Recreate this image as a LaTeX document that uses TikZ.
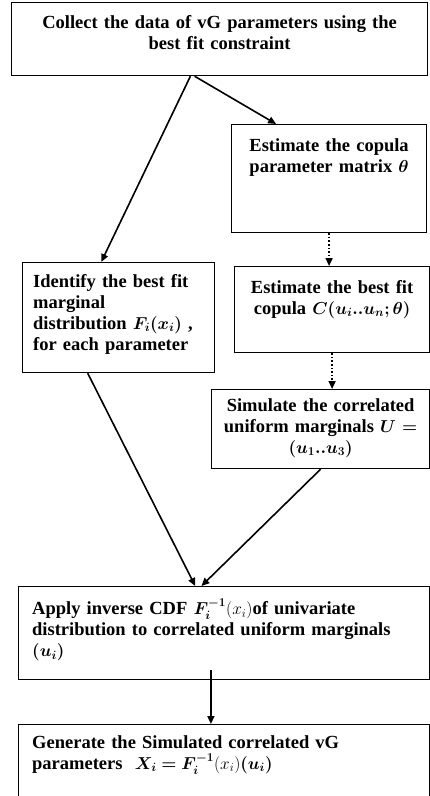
\documentclass[tikz,border=0pt]{standalone}
\usepackage{fontspec}
\setmainfont{Liberation Serif}
\usepackage{amsmath}
\usepackage{bm}
\usetikzlibrary{arrows.meta,calc}

\tikzset{
  frame/.style={draw, line width=1.2pt, inner sep=0pt, anchor=north west},
  boxtext/.style={inner sep=0pt, font=\fontsize{18.5}{21}\selectfont\bfseries},
  flow/.style={->, line width=1.6pt},
}

\begin{document}
\begin{tikzpicture}[x=1pt,y=-1pt,>={Triangle[length=8pt,width=7pt]}]
  \useasboundingbox (0,0) rectangle (430,796);

  % frames of the steps
  \node[frame, minimum width=416pt, minimum height=73pt] (collect) at (11,2) {};
  \node[frame, minimum width=195pt, minimum height=108pt] (copula) at (231,124) {};
  \node[frame, minimum width=192pt, minimum height=110pt] (identify) at (22,262) {};
  \node[frame, minimum width=195pt, minimum height=86pt] (bestfit) at (234,266) {};
  \node[frame, minimum width=218pt, minimum height=79pt] (simulate) at (211,389) {};
  \node[frame, minimum width=411pt, minimum height=93pt] (apply) at (18,586) {};
  \node[frame, minimum width=411pt, minimum height=74pt] (generate) at (18,724) {};

  % texts
  \node[boxtext, anchor=north, text width=405pt, align=center] (collecttext)
    at ($(collect.north)+(0,13)$)
    {Collect the data of vG parameters using the\\ best fit constraint};
  \node[boxtext, anchor=north, text width=190pt, align=center] (copulatext)
    at ($(copula.north)+(0,14)$)
    {Estimate the copula\\ parameter matrix $\bm{\theta}$};
  \node[boxtext, anchor=north west, text width=178pt, align=left] (identifytext)
    at ($(identify.north west)+(11,12)$)
    {Identify the best fit\\ marginal\\ distribution $\bm{F_i(x_i)}$ ,\\ for each parameter};
  \node[boxtext, anchor=north, text width=192pt, align=center] (bestfittext)
    at ($(bestfit.north)+(0,14)$)
    {Estimate the best fit\\ copula $\bm{C(u_i..u_n;\theta)}$};
  \node[boxtext, anchor=north, text width=214pt, align=center] (simulatetext)
    at ($(simulate.north)+(0,9)$)
    {Simulate the correlated\\ uniform marginals $\bm{U =}$\\ $\bm{(u_1..u_3)}$};
  \node[boxtext, anchor=north west, text width=395pt, align=left] (applytext)
    at ($(apply.north west)+(14,13)$)
    {Apply inverse CDF $\bm{F_i^{-1}}(x_i)$of univariate\\ distribution to correlated uniform marginals\\ $\bm{(u_i)}$};
  \node[boxtext, anchor=north west, text width=395pt, align=left] (generatetext)
    at ($(generate.north west)+(14,11)$)
    {Generate the Simulated correlated vG\\ parameters\ \ $\bm{X_i = F_i^{-1}}(x_i)\bm{(u_i)}$};

  % connectors
  \draw[flow] ($(collect.south west)!0.43!(collect.south east)$)
    -- ($(identify.north west)!0.41!(identify.north east)$);
  \draw[flow] ($(collect.south west)!0.44!(collect.south east)$)
    -- ($(copula.north west)!0.23!(copula.north east)$);
  \foreach \from/\to in {copula/bestfit, bestfit/simulate}
  {
    \draw[flow, dotted] (\from.south) -- (\from.south |- \to.north);
  }
  \draw[flow] ($(identify.south west)!0.34!(identify.south east)$)
    -- ($(apply.north west)!0.43!(apply.north east)$);
  \draw[flow] (simulate.south)
    -- ($(apply.north west)!0.445!(apply.north east)$);
  \coordinate (drop) at ($(apply.south west)!0.468!(apply.south east)$);
  \draw[flow] ($(drop)+(0,-10)$) -- (drop |- generate.north);
\end{tikzpicture}
\end{document}
